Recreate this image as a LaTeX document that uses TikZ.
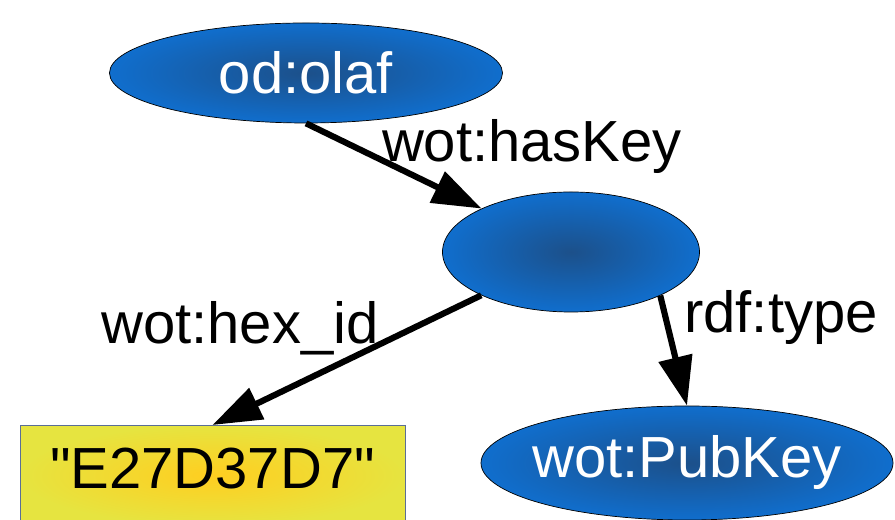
\documentclass[tikz,border=0pt]{standalone}
\usepackage{fontspec}
\setmainfont{Liberation Sans}
\usetikzlibrary{shapes.geometric,arrows.meta}

\definecolor{resouter}{RGB}{16,110,205}
\definecolor{resinner}{RGB}{28,80,138}
\definecolor{litouter}{RGB}{230,228,64}
\definecolor{litinner}{RGB}{255,206,32}
\definecolor{litborder}{RGB}{90,110,150}

\tikzset{
    res/.style={ellipse, draw=black, thin, inner sep=0pt,
        inner color=resinner, outer color=resouter,
        text=white, font=\fontsize{33}{40}\selectfont},
    lit/.style={rectangle, draw=litborder, thin, inner sep=0pt,
        inner color=litinner, outer color=litouter,
        minimum width=7.7cm, text height=1.26cm, text depth=0.74cm,
        anchor=north, font=\fontsize{33}{40}\selectfont},
    prop/.style={line width=3.5pt, -{Triangle[length=28pt,width=19pt]}},
    proplabel/.style={font=\fontsize{33}{40}\selectfont}
}

\begin{document}
\begin{tikzpicture}
                \useasboundingbox (0,0) rectangle (17.9,10.4);
                \coordinate (O) at (6.12,8.94);
                \coordinate (K) at (11.42,5.36);
                \coordinate (P) at (13.74,1.14);
                \coordinate (H) at (4.25,1.9);
                \node[res, minimum width=7.86cm, minimum height=2cm] (olaf) at (O) {od:olaf};
                \node[res, minimum width=5.14cm, minimum height=2.4cm] (key) at (K) {};
                \node[res, minimum width=8.24cm, minimum height=2.28cm, inner xsep=-20pt] (pubkey) at (P) {wot:PubKey};
                \node[lit] (hexid) at (H) {\textquotedbl E27D37D7\textquotedbl};
                \draw[prop] (olaf.south) -- (key);
                \draw[prop] (key) -- (hexid.north);
                \draw[prop] (key.-26) -- (pubkey.north);
                \node[proplabel] (haskey) at (10.64,7.46) {wot:hasKey};
                \node[proplabel] (hexlabel) at (4.8,3.84) {wot:hex\_id};
                \node[proplabel] (typelabel) at (15.62,4.04) {rdf:type};
            \end{tikzpicture}
\end{document}
